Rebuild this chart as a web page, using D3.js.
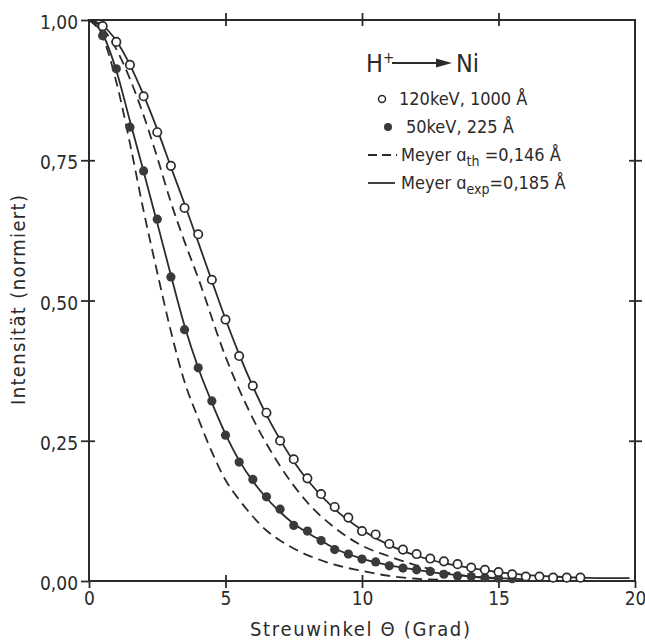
<!DOCTYPE html>
<html>
<head>
<meta charset="utf-8">
<script src="https://cdn.jsdelivr.net/npm/d3@7"></script>
<style>
  body { margin: 0; background: #fff; }
  svg { display: block; }
  text { font-family: "DejaVu Sans Condensed", "Liberation Sans Narrow", "DejaVu Sans", sans-serif; fill: #2b2b2b; }
</style>
</head>
<body>
<svg id="chart"></svg>
<script>
const W = 645, H = 641;

// measured points (Streuwinkel in Grad, Intensitaet normiert)
const angles120 = [0.5, 1, 1.5, 2, 2.5, 3, 3.5, 4, 4.5, 5, 5.5, 6, 6.5, 7, 7.5, 8, 8.5, 9, 9.5, 10,
  10.5, 11, 11.5, 12, 12.5, 13, 13.5, 14, 14.5, 15, 15.5, 16, 16.5, 17, 17.5, 18];
const int120 = [0.989, 0.961, 0.920, 0.864, 0.800, 0.740, 0.665, 0.618, 0.537, 0.466, 0.401, 0.348,
  0.300, 0.250, 0.217, 0.183, 0.155, 0.132, 0.113, 0.089, 0.083, 0.066, 0.056, 0.048, 0.040, 0.035,
  0.030, 0.024, 0.020, 0.016, 0.012, 0.008, 0.008, 0.006, 0.006, 0.006];

const angles50 = [0.5, 1, 1.5, 2, 2.5, 3, 3.5, 4, 4.5, 5, 5.5, 6, 6.5, 7, 7.5, 8, 8.5, 9, 9.5, 10,
  10.5, 11, 11.5, 12, 12.5, 13, 13.5, 14, 14.5, 15, 15.5];
const int50 = [0.972, 0.913, 0.809, 0.731, 0.645, 0.542, 0.448, 0.380, 0.321, 0.260, 0.212, 0.181,
  0.150, 0.128, 0.099, 0.089, 0.072, 0.056, 0.048, 0.039, 0.034, 0.027, 0.023, 0.020, 0.017, 0.012,
  0.009, 0.008, 0.006, 0.005, 0.004];

// Meyer curves
const solidUpX = [0, 0.5, 1, 1.5, 2, 2.5, 3, 3.5, 4, 4.5, 5, 5.5, 6, 6.5, 7, 7.5, 8, 9, 10, 11, 12, 13, 14, 15, 16, 17, 18, 19, 19.8];
const solidUpY = [1.0, 0.99, 0.963, 0.92, 0.866, 0.805, 0.738, 0.672, 0.604, 0.535, 0.467, 0.404, 0.347,
  0.296, 0.252, 0.213, 0.180, 0.128, 0.091, 0.064, 0.045, 0.032, 0.023, 0.016, 0.011, 0.008, 0.006, 0.005, 0.005];

const dashUpX = [0, 0.5, 1, 1.5, 2, 2.5, 3, 3.5, 4, 5, 6, 7, 8, 9, 10, 11, 12, 13, 14, 15];
const dashUpY = [1.0, 0.985, 0.948, 0.895, 0.83, 0.755, 0.675, 0.605, 0.54, 0.40, 0.29, 0.205, 0.14,
  0.095, 0.063, 0.044, 0.028, 0.016, 0.008, 0.004];

const solidLowX = [0, 0.5, 1, 1.5, 2, 2.5, 3, 3.5, 4, 4.5, 5, 5.5, 6, 6.5, 7, 7.5, 8, 8.5, 9, 10, 11, 12, 13, 14, 15, 16];
const solidLowY = [1.0, 0.975, 0.91, 0.82, 0.73, 0.638, 0.545, 0.455, 0.38, 0.318, 0.262, 0.215, 0.178,
  0.148, 0.123, 0.102, 0.086, 0.072, 0.058, 0.040, 0.028, 0.020, 0.013, 0.008, 0.005, 0.003];

const dashLowX = [0, 0.5, 1, 1.5, 2, 2.5, 3, 3.5, 4, 4.5, 5, 5.5, 6, 6.5, 7, 7.5, 8, 8.5, 9, 10, 11, 12, 13];
const dashLowY = [1.0, 0.97, 0.89, 0.78, 0.66, 0.55, 0.445, 0.355, 0.29, 0.23, 0.18, 0.145, 0.115,
  0.09, 0.072, 0.058, 0.046, 0.037, 0.029, 0.018, 0.009, 0.004, 0.002];

const xTicks = [0, 5, 10, 15, 20];
const yTicks = [0, 0.25, 0.5, 0.75, 1];
const yTickLabels = ["0,00", "0,25", "0,50", "0,75", "1,00"];

const ink = "#2b2b2b";
const plot = { left: 89, right: 635, top: 20, bottom: 581 };

const svg = d3.select("#chart").attr("width", W).attr("height", H);

const x = d3.scaleLinear().domain([0, 20]).range([plot.left, plot.right]);
const y = d3.scaleLinear().domain([0, 1]).range([plot.bottom, plot.top]);

// frame
svg.append("rect")
  .attr("x", plot.left).attr("y", plot.top)
  .attr("width", plot.right - plot.left).attr("height", plot.bottom - plot.top)
  .attr("fill", "none").attr("stroke", ink).attr("stroke-width", 2);

// axes
function styleAxis(g) {
  g.select(".domain").remove();
  g.selectAll(".tick line").attr("stroke", ink).attr("stroke-width", 1.8);
  g.selectAll(".tick text").attr("fill", ink).style("font-size", "19px");
}

const bottomAxis = svg.append("g")
  .attr("transform", "translate(0," + plot.bottom + ")")
  .call(d3.axisBottom(x).tickValues(xTicks).tickSize(7).tickPadding(4).tickFormat(d3.format("d")))
  .call(styleAxis);
bottomAxis.selectAll(".tick line").attr("y1", d => (d === 0 || d === 20) ? 0 : -6);

svg.append("g")
  .attr("transform", "translate(0," + plot.top + ")")
  .call(d3.axisTop(x).tickValues(xTicks.filter(d => d > 0 && d < 20)).tickSize(7).tickFormat(""))
  .call(styleAxis)
  .selectAll(".tick line").attr("y1", 6);

const leftAxis = svg.append("g")
  .attr("transform", "translate(" + plot.left + ",0)")
  .call(d3.axisLeft(y).tickValues(yTicks).tickSize(8).tickPadding(3)
    .tickFormat((d, i) => yTickLabels[i]))
  .call(styleAxis);
leftAxis.selectAll(".tick line").attr("x1", d => (d === 0 || d === 1) ? 0 : 6);
leftAxis.selectAll(".tick text").attr("dy", "0.45em");

svg.append("g")
  .attr("transform", "translate(" + plot.right + ",0)")
  .call(d3.axisRight(y).tickValues(yTicks.filter(d => d > 0 && d < 1)).tickSize(7).tickFormat(""))
  .call(styleAxis)
  .selectAll(".tick line").attr("x1", -6);

// axis titles
svg.append("text")
  .attr("x", 360).attr("y", 636)
  .attr("text-anchor", "middle")
  .attr("textLength", 220).attr("lengthAdjust", "spacing")
  .style("font-size", "20px")
  .text("Streuwinkel Θ (Grad)");

svg.append("text")
  .attr("transform", "translate(25,300) rotate(-90)")
  .attr("text-anchor", "middle")
  .attr("textLength", 210).attr("lengthAdjust", "spacing")
  .style("font-size", "20px")
  .text("Intensität (normiert)");

// curves
const line = d3.line().x(d => x(d[0])).y(d => y(d[1])).curve(d3.curveMonotoneX);
const curves = [
  { xs: solidUpX, ys: solidUpY, dash: null },
  { xs: solidLowX, ys: solidLowY, dash: null },
  { xs: dashUpX, ys: dashUpY, dash: "10,6" },
  { xs: dashLowX, ys: dashLowY, dash: "10,6" }
];
svg.selectAll(".curve")
  .data(curves)
  .enter()
  .append("path")
  .attr("class", "curve")
  .attr("d", c => line(c.xs.map((v, i) => [v, c.ys[i]])))
  .attr("fill", "none")
  .attr("stroke", ink)
  .attr("stroke-width", 1.8)
  .attr("stroke-dasharray", c => c.dash);

// data points
svg.selectAll(".p50")
  .data(angles50.map((a, i) => [a, int50[i]]))
  .enter()
  .append("circle")
  .attr("cx", d => x(d[0]))
  .attr("cy", d => y(d[1]))
  .attr("r", 4.6)
  .attr("fill", "#3a3a3a");

svg.selectAll(".p120")
  .data(angles120.map((a, i) => [a, int120[i]]))
  .enter()
  .append("circle")
  .attr("cx", d => x(d[0]))
  .attr("cy", d => y(d[1]))
  .attr("r", 4.2)
  .attr("fill", "#fff")
  .attr("stroke", ink)
  .attr("stroke-width", 1.7);

// legend
const lg = svg.append("g");
const title = lg.append("text").attr("x", 366).attr("y", 72).style("font-size", "25px");
title.append("tspan").text("H");
title.append("tspan").attr("dy", -9).style("font-size", "15px").text("+");
lg.append("line")
  .attr("x1", 392).attr("x2", 440).attr("y1", 63).attr("y2", 63)
  .attr("stroke", ink).attr("stroke-width", 2);
lg.append("path")
  .attr("d", "M436,58.5 L452,63 L436,67.5 Z")
  .attr("fill", ink);
lg.append("text").attr("x", 456).attr("y", 72).style("font-size", "25px").text("Ni");

lg.append("circle").attr("cx", 382).attr("cy", 99).attr("r", 3.5)
  .attr("fill", "#fff").attr("stroke", ink).attr("stroke-width", 1.5);
lg.append("text").attr("x", 399).attr("y", 105).style("font-size", "18px").text("120keV, 1000 Å");

lg.append("circle").attr("cx", 388).attr("cy", 127).attr("r", 4).attr("fill", "#3a3a3a");
lg.append("text").attr("x", 406).attr("y", 133).style("font-size", "18px").text("50keV,  225 Å");

lg.append("line").attr("x1", 368).attr("x2", 397).attr("y1", 155).attr("y2", 155)
  .attr("stroke", ink).attr("stroke-width", 1.8).attr("stroke-dasharray", "9,5");
const t1 = lg.append("text").attr("x", 401).attr("y", 161).style("font-size", "18px");
t1.append("tspan").text("Meyer  ɑ");
t1.append("tspan").attr("dy", 5).style("font-size", "14px").text("th");
t1.append("tspan").attr("dy", -5).text(" =0,146 Å");

lg.append("line").attr("x1", 368).attr("x2", 395).attr("y1", 183).attr("y2", 183)
  .attr("stroke", ink).attr("stroke-width", 1.8);
const t2 = lg.append("text").attr("x", 401).attr("y", 189).style("font-size", "18px");
t2.append("tspan").text("Meyer  ɑ");
t2.append("tspan").attr("dy", 5).style("font-size", "14px").text("exp");
t2.append("tspan").attr("dy", -5).text("=0,185 Å");
</script>
</body>
</html>
